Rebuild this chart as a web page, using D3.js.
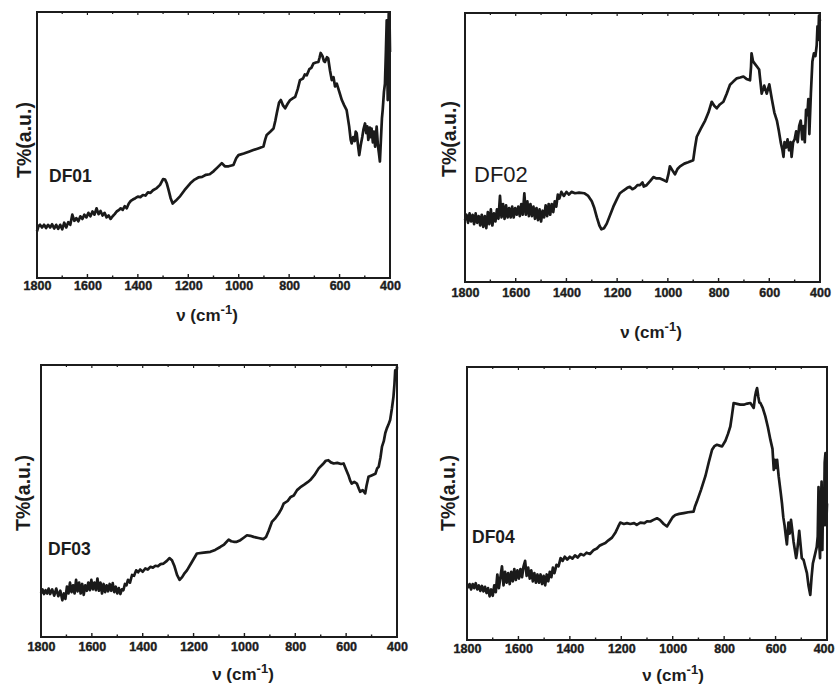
<!DOCTYPE html>
<html>
<head>
<meta charset="utf-8">
<script src="https://cdn.jsdelivr.net/npm/d3@7"></script>
<style>
  body { margin: 0; background: #fff; }
  svg { display: block; }
  text { font-family: 'Liberation Sans', Arial, sans-serif; fill: #1c1c1c; }
</style>
</head>
<body>
<div id="chart"></div>
<script>
// FTIR transmittance spectra (T% in arbitrary units, 0 = frame bottom, 1 = frame top)
const df01Wave = [1800, 1794, 1788, 1780, 1772, 1764, 1756, 1748, 1740, 1732, 1724, 1716, 1708, 1700, 1692, 1684, 1676, 1668, 1660, 1652, 1644, 1636, 1628, 1620, 1612, 1604, 1596, 1588, 1580, 1572, 1564, 1556, 1548, 1540, 1532, 1524, 1516, 1508, 1500, 1492, 1484, 1476, 1468, 1460, 1452, 1444, 1436, 1428, 1420, 1410, 1400, 1390, 1380, 1370, 1360, 1350, 1340, 1325, 1312, 1300, 1292, 1285, 1278, 1270, 1262, 1250, 1232, 1215, 1192, 1175, 1160, 1145, 1130, 1115, 1099, 1085, 1067, 1055, 1040, 1021, 1010, 1001, 980, 960, 942, 920, 902, 895, 889, 875, 862, 855, 849, 840, 833, 825, 816, 806, 796, 786, 776, 766, 757, 745, 738, 730, 720, 712, 704, 694, 684, 679, 675, 668, 662, 658, 650, 645, 638, 631, 624, 618, 611, 601, 591, 582, 572, 562, 556, 552, 546, 540, 536, 532, 527, 522, 516, 510, 505, 499, 494, 490, 486, 480, 476, 473, 468, 464, 459, 456, 453, 448, 444, 440, 436, 432, 429, 424, 420, 416, 413, 411, 409, 407, 405, 403, 402, 400];
const df01T = [0.175, 0.195, 0.2, 0.19, 0.2, 0.188, 0.2, 0.19, 0.202, 0.186, 0.2, 0.185, 0.2, 0.183, 0.208, 0.19, 0.21, 0.2, 0.238, 0.215, 0.225, 0.213, 0.232, 0.222, 0.238, 0.228, 0.245, 0.232, 0.25, 0.238, 0.262, 0.24, 0.252, 0.235, 0.245, 0.228, 0.235, 0.222, 0.232, 0.24, 0.25, 0.255, 0.262, 0.256, 0.27, 0.262, 0.28, 0.29, 0.295, 0.3, 0.306, 0.304, 0.312, 0.31, 0.322, 0.32, 0.33, 0.338, 0.35, 0.372, 0.37, 0.355, 0.33, 0.3, 0.28, 0.29, 0.308, 0.33, 0.356, 0.37, 0.378, 0.38, 0.388, 0.39, 0.402, 0.415, 0.432, 0.42, 0.42, 0.425, 0.45, 0.462, 0.468, 0.475, 0.481, 0.488, 0.494, 0.52, 0.538, 0.55, 0.562, 0.59, 0.619, 0.66, 0.669, 0.65, 0.638, 0.655, 0.669, 0.675, 0.681, 0.71, 0.744, 0.75, 0.765, 0.762, 0.785, 0.79, 0.806, 0.81, 0.812, 0.83, 0.846, 0.835, 0.815, 0.812, 0.83, 0.825, 0.78, 0.744, 0.755, 0.72, 0.731, 0.7, 0.669, 0.65, 0.631, 0.57, 0.52, 0.506, 0.53, 0.515, 0.55, 0.544, 0.5, 0.462, 0.5, 0.53, 0.56, 0.581, 0.545, 0.57, 0.519, 0.565, 0.53, 0.562, 0.51, 0.55, 0.494, 0.53, 0.569, 0.5, 0.47, 0.438, 0.52, 0.6, 0.631, 0.7, 0.731, 0.86, 0.969, 0.8, 0.669, 0.9, 0.994, 0.75, 0.98, 0.85];

const df02Wave = [1800, 1794, 1788, 1782, 1776, 1770, 1764, 1758, 1752, 1746, 1740, 1734, 1728, 1722, 1716, 1710, 1704, 1698, 1692, 1686, 1680, 1674, 1668, 1662, 1656, 1650, 1644, 1638, 1632, 1626, 1620, 1614, 1608, 1602, 1596, 1590, 1584, 1578, 1572, 1566, 1560, 1554, 1548, 1542, 1536, 1530, 1524, 1518, 1512, 1506, 1500, 1494, 1488, 1482, 1476, 1470, 1464, 1458, 1452, 1446, 1440, 1434, 1428, 1420, 1410, 1400, 1390, 1380, 1366, 1350, 1330, 1314, 1300, 1290, 1280, 1270, 1262, 1252, 1241, 1215, 1200, 1189, 1175, 1160, 1150, 1140, 1130, 1120, 1110, 1100, 1095, 1084, 1070, 1057, 1045, 1031, 1015, 1005, 998, 992, 982, 972, 962, 952, 935, 920, 900, 893, 886, 870, 853, 840, 827, 817, 807, 795, 781, 768, 755, 742, 728, 715, 702, 690, 676, 672, 670, 664, 656, 648, 640, 630, 620, 610, 600, 590, 580, 570, 562, 555, 548, 544, 540, 534, 528, 522, 516, 512, 506, 500, 494, 488, 482, 476, 470, 465, 460, 455, 450, 446, 442, 436, 430, 424, 418, 413, 410, 407, 404, 400];
const df02T = [0.23, 0.25, 0.22, 0.255, 0.225, 0.25, 0.215, 0.255, 0.22, 0.245, 0.21, 0.25, 0.205, 0.245, 0.2, 0.26, 0.215, 0.27, 0.21, 0.255, 0.225, 0.27, 0.235, 0.32, 0.24, 0.29, 0.235, 0.285, 0.24, 0.275, 0.24, 0.28, 0.24, 0.275, 0.25, 0.28, 0.245, 0.29, 0.25, 0.33, 0.25, 0.3, 0.245, 0.29, 0.245, 0.28, 0.235, 0.275, 0.23, 0.27, 0.225, 0.265, 0.24, 0.285, 0.245, 0.29, 0.25, 0.29, 0.26, 0.3, 0.28, 0.325, 0.31, 0.335, 0.32, 0.335, 0.325, 0.335, 0.33, 0.332, 0.33, 0.32, 0.3, 0.275, 0.24, 0.21, 0.196, 0.2, 0.217, 0.28, 0.31, 0.33, 0.34, 0.35, 0.354, 0.345, 0.35, 0.36, 0.36, 0.37, 0.355, 0.36, 0.375, 0.39, 0.385, 0.385, 0.378, 0.373, 0.4, 0.43, 0.415, 0.4, 0.42, 0.43, 0.44, 0.445, 0.453, 0.5, 0.54, 0.57, 0.6, 0.63, 0.67, 0.655, 0.646, 0.66, 0.67, 0.7, 0.733, 0.745, 0.757, 0.76, 0.764, 0.755, 0.75, 0.8, 0.85, 0.82, 0.81, 0.8, 0.79, 0.7, 0.73, 0.7, 0.735, 0.68, 0.63, 0.6, 0.56, 0.52, 0.49, 0.465, 0.52, 0.5, 0.53, 0.49, 0.52, 0.465, 0.52, 0.53, 0.56, 0.52, 0.58, 0.6, 0.53, 0.58, 0.52, 0.64, 0.62, 0.68, 0.55, 0.7, 0.82, 0.85, 0.84, 0.88, 0.95, 0.9, 0.99, 0.97];

const df03Wave = [1800, 1794, 1788, 1782, 1776, 1770, 1764, 1756, 1748, 1740, 1732, 1724, 1716, 1710, 1704, 1698, 1692, 1686, 1680, 1674, 1668, 1662, 1656, 1650, 1644, 1638, 1632, 1626, 1620, 1614, 1608, 1602, 1596, 1590, 1584, 1578, 1572, 1566, 1560, 1554, 1548, 1542, 1536, 1530, 1524, 1518, 1512, 1506, 1500, 1494, 1488, 1482, 1476, 1470, 1464, 1458, 1450, 1442, 1434, 1426, 1418, 1410, 1400, 1390, 1380, 1370, 1360, 1350, 1340, 1330, 1318, 1305, 1295, 1285, 1275, 1265, 1255, 1245, 1235, 1226, 1210, 1187, 1160, 1134, 1115, 1095, 1080, 1062, 1052, 1042, 1030, 1016, 1003, 990, 977, 964, 945, 925, 915, 905, 892, 880, 865, 855, 846, 830, 818, 806, 793, 781, 765, 750, 741, 725, 708, 692, 680, 670, 660, 649, 635, 620, 610, 600, 591, 584, 578, 568, 558, 550, 545, 535, 525, 520, 512, 500, 485, 478, 472, 465, 459, 452, 446, 440, 434, 427, 420, 414, 410, 407, 403, 400];
const df03T = [0.16, 0.175, 0.158, 0.172, 0.16, 0.178, 0.158, 0.175, 0.152, 0.178, 0.15, 0.17, 0.135, 0.16, 0.14, 0.185, 0.16, 0.2, 0.165, 0.19, 0.16, 0.21, 0.168, 0.2, 0.16, 0.195, 0.155, 0.19, 0.17, 0.2, 0.172, 0.21, 0.175, 0.2, 0.172, 0.215, 0.17, 0.2, 0.16, 0.195, 0.165, 0.19, 0.168, 0.195, 0.17, 0.198, 0.165, 0.185, 0.16, 0.18, 0.158, 0.175, 0.172, 0.195, 0.19, 0.21, 0.2, 0.228, 0.225, 0.245, 0.238, 0.248, 0.24, 0.252, 0.248, 0.258, 0.255, 0.262, 0.26, 0.268, 0.27, 0.28, 0.29, 0.282, 0.26, 0.228, 0.21, 0.22, 0.235, 0.245, 0.27, 0.307, 0.31, 0.313, 0.32, 0.331, 0.34, 0.358, 0.352, 0.35, 0.35, 0.356, 0.365, 0.374, 0.372, 0.368, 0.364, 0.36, 0.368, 0.39, 0.423, 0.435, 0.454, 0.47, 0.49, 0.5, 0.515, 0.52, 0.54, 0.55, 0.56, 0.57, 0.577, 0.595, 0.62, 0.635, 0.648, 0.65, 0.642, 0.638, 0.64, 0.636, 0.638, 0.615, 0.595, 0.575, 0.564, 0.57, 0.564, 0.545, 0.534, 0.54, 0.528, 0.555, 0.589, 0.594, 0.6, 0.62, 0.626, 0.66, 0.7, 0.72, 0.75, 0.767, 0.78, 0.798, 0.84, 0.883, 0.93, 0.98, 0.96, 0.994];

const df04Wave = [1797, 1790, 1784, 1778, 1772, 1766, 1760, 1754, 1748, 1742, 1736, 1730, 1724, 1718, 1712, 1706, 1700, 1694, 1688, 1682, 1676, 1670, 1664, 1658, 1652, 1646, 1640, 1634, 1628, 1622, 1616, 1610, 1604, 1598, 1592, 1586, 1580, 1574, 1568, 1562, 1556, 1550, 1544, 1538, 1532, 1526, 1520, 1514, 1508, 1502, 1496, 1490, 1484, 1478, 1472, 1466, 1460, 1452, 1444, 1436, 1428, 1420, 1410, 1400, 1390, 1380, 1370, 1358, 1346, 1335, 1322, 1307, 1295, 1285, 1275, 1262, 1250, 1236, 1222, 1212, 1204, 1190, 1178, 1165, 1150, 1140, 1126, 1110, 1100, 1087, 1075, 1061, 1050, 1035, 1022, 1010, 1000, 990, 975, 957, 940, 919, 913, 906, 890, 873, 860, 847, 838, 828, 818, 808, 795, 785, 776, 770, 763, 750, 737, 724, 710, 698, 690, 685, 680, 676, 672, 667, 663, 659, 650, 640, 630, 620, 612, 607, 603, 598, 594, 588, 580, 575, 570, 565, 560, 556, 550, 545, 540, 536, 530, 525, 520, 517, 512, 508, 504, 498, 491, 485, 478, 472, 467, 465, 460, 455, 450, 445, 440, 436, 433, 430, 427, 424, 421, 418, 415, 412, 409, 406, 403, 400];
const df04T = [0.19, 0.205, 0.185, 0.205, 0.19, 0.208, 0.185, 0.2, 0.18, 0.198, 0.178, 0.195, 0.172, 0.19, 0.16, 0.185, 0.162, 0.2, 0.175, 0.24, 0.19, 0.23, 0.27, 0.2, 0.25, 0.21, 0.245, 0.205, 0.25, 0.215, 0.26, 0.22, 0.255, 0.225, 0.26, 0.23, 0.27, 0.29, 0.235, 0.265, 0.225, 0.255, 0.215, 0.245, 0.21, 0.24, 0.21, 0.24, 0.205, 0.235, 0.2, 0.24, 0.215, 0.25, 0.23, 0.265, 0.245, 0.275, 0.27, 0.3, 0.29, 0.305, 0.295, 0.305, 0.298, 0.31, 0.302, 0.315, 0.31, 0.32, 0.315, 0.33, 0.335, 0.345, 0.35, 0.355, 0.365, 0.375, 0.395, 0.415, 0.43, 0.425, 0.428, 0.425, 0.428, 0.422, 0.43, 0.428, 0.435, 0.434, 0.44, 0.446, 0.44, 0.425, 0.416, 0.435, 0.45, 0.458, 0.462, 0.465, 0.468, 0.47, 0.49, 0.507, 0.55, 0.6, 0.65, 0.697, 0.71, 0.715, 0.712, 0.709, 0.73, 0.755, 0.782, 0.82, 0.868, 0.865, 0.862, 0.862, 0.866, 0.868, 0.857, 0.85, 0.89, 0.91, 0.923, 0.89, 0.87, 0.868, 0.85, 0.82, 0.78, 0.733, 0.7, 0.623, 0.66, 0.63, 0.66, 0.6, 0.54, 0.5, 0.45, 0.42, 0.38, 0.35, 0.43, 0.39, 0.44, 0.41, 0.36, 0.33, 0.3, 0.318, 0.36, 0.4, 0.36, 0.3, 0.293, 0.27, 0.245, 0.2, 0.175, 0.165, 0.23, 0.28, 0.3, 0.32, 0.34, 0.38, 0.56, 0.35, 0.3, 0.5, 0.58, 0.33, 0.55, 0.42, 0.65, 0.685, 0.42, 0.5];

const sampleNames = ['DF01', 'DF02', 'DF03', 'DF04'];
const tickLabels = [1800, 1600, 1400, 1200, 1000, 800, 600, 400];
const minorTicks = d3.range(1800, 399, -100);

const width = 835;
const height = 684;

// frame box of every panel in page pixels, plus where its texts sit
const panels = [
  { name: sampleNames[0], wave: df01Wave, t: df01T, box: [37, 12, 390, 278], tickY: 290, yLab: [24, 140], xLab: [207, 321], tag: [49, 182], bold: true },
  { name: sampleNames[1], wave: df02Wave, t: df02T, box: [465, 13, 820, 282], tickY: 297, yLab: [449, 139], xLab: [651, 338], tag: [474, 182], bold: false },
  { name: sampleNames[2], wave: df03Wave, t: df03T, box: [41, 365, 397, 637], tickY: 651, yLab: [23, 493], xLab: [243, 680], tag: [48, 555], bold: true },
  { name: sampleNames[3], wave: df04Wave, t: df04T, box: [467, 367, 827, 640], tickY: 653, yLab: [448, 493], xLab: [673, 681], tag: [472, 543], bold: true },
];

const svg = d3
  .select('#chart')
  .append('svg')
  .attr('width', width)
  .attr('height', height);

panels.forEach((p) => {
  const [x0, y0, x1, y1] = p.box;
  const g = svg.append('g');

  const x = d3.scaleLinear().domain([1800, 400]).range([x0, x1]);
  const y = d3.scaleLinear().domain([0, 1]).range([y1, y0]);

  // bottom tick labels
  const bottom = d3
    .axisBottom(x)
    .tickValues(tickLabels)
    .tickSize(0)
    .tickPadding(0)
    .tickFormat(d3.format('d'));
  const ax = g.append('g').attr('transform', `translate(0,${p.tickY - 9})`).call(bottom);
  ax.select('.domain').remove();
  ax.selectAll('text')
    .attr('dy', 0)
    .attr('y', 9)
    .style('font-size', '12.5px')
    .style('font-weight', 'bold')
    .style('fill', '#1c1c1c')
    .style('stroke', '#1c1c1c')
    .style('stroke-width', 0.4);
  // keep the last label inside the page
  ax.selectAll('.tick')
    .filter((d) => x(d) + 13 > width)
    .select('text')
    .attr('text-anchor', 'end')
    .attr('x', width - 1 - x1);

  // small inward ticks on bottom and top edges
  g.selectAll('.tb')
    .data(minorTicks)
    .enter()
    .append('line')
    .attr('x1', (d) => x(d))
    .attr('x2', (d) => x(d))
    .attr('y1', y1)
    .attr('y2', (d) => y1 - (d % 200 === 0 ? 4 : 2.5))
    .attr('stroke', '#1c1c1c')
    .attr('stroke-width', 1.4);
  g.selectAll('.tt')
    .data(minorTicks)
    .enter()
    .append('line')
    .attr('x1', (d) => x(d))
    .attr('x2', (d) => x(d))
    .attr('y1', y0)
    .attr('y2', (d) => y0 + (d % 200 === 0 ? 3 : 2))
    .attr('stroke', '#1c1c1c')
    .attr('stroke-width', 1.2);

  // spectrum
  const line = d3
    .line()
    .x((d) => x(d[0]))
    .y((d) => y(d[1]));

  g.append('path')
    .datum(d3.zip(p.wave, p.t))
    .attr('d', line)
    .attr('fill', 'none')
    .attr('stroke', '#1a1a1a')
    .attr('stroke-width', 2.7)
    .attr('stroke-linejoin', 'round');

  // frame
  g.append('rect')
    .attr('x', x0)
    .attr('y', y0)
    .attr('width', x1 - x0)
    .attr('height', y1 - y0)
    .attr('fill', 'none')
    .attr('stroke', '#1c1c1c')
    .attr('stroke-width', 2);

  // sample tag
  g.append('text')
    .attr('x', p.tag[0])
    .attr('y', p.tag[1])
    .style('font-size', p.bold ? '17.5px' : '22px')
    .style('font-weight', p.bold ? 'bold' : 'normal')
    .text(p.name);

  // y axis title
  g.append('text')
    .attr('transform', `translate(${p.yLab[0]},${p.yLab[1]}) rotate(-90)`)
    .attr('text-anchor', 'middle')
    .attr('dy', '0.35em')
    .style('font-size', '19.5px')
    .style('font-weight', 'bold')
    .text('T%(a.u.)');

  // x axis title: ν (cm-1)
  const xt = g.append('text')
    .attr('x', p.xLab[0])
    .attr('y', p.xLab[1])
    .attr('text-anchor', 'middle')
    .style('font-size', '17px')
    .style('font-weight', 'bold');
  xt.append('tspan').text('ν (cm');
  xt.append('tspan').attr('dy', -7).style('font-size', '13px').text('-1');
  xt.append('tspan').attr('dy', 7).text(')');
});
</script>
</body>
</html>
